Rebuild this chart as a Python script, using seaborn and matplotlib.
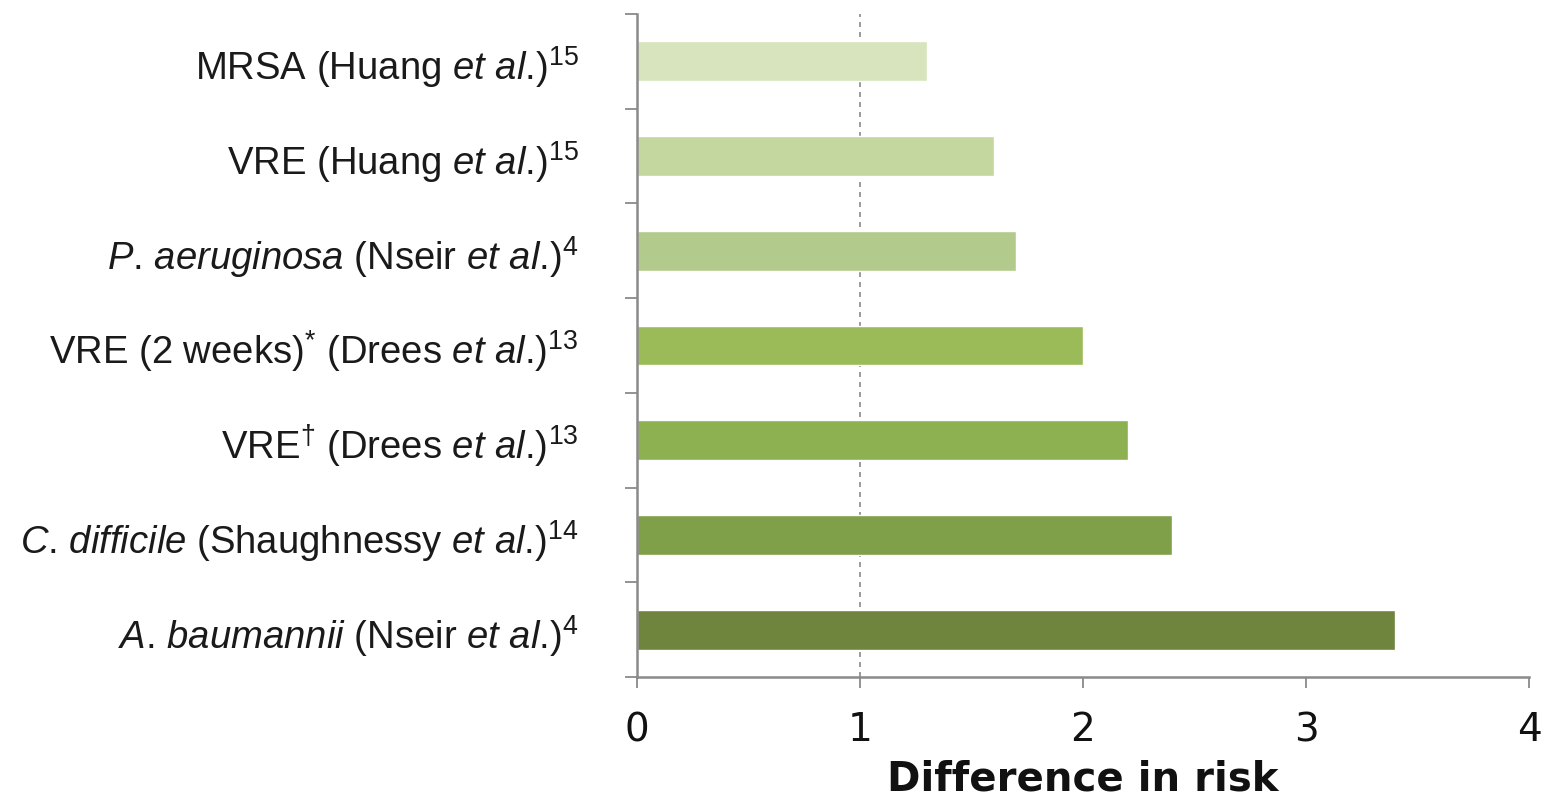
import matplotlib
matplotlib.use("Agg")
import matplotlib.pyplot as plt
from matplotlib.ticker import FixedLocator
import seaborn as sns

# Organisms / studies, top to bottom
labels = [
    r"MRSA (Huang $\mathit{et\ al}$.)$^{15}$",
    r"VRE (Huang $\mathit{et\ al}$.)$^{15}$",
    r"$\mathit{P}$. $\mathit{aeruginosa}$ (Nseir $\mathit{et\ al}$.)$^{4}$",
    r"VRE (2 weeks)$^{*}$ (Drees $\mathit{et\ al}$.)$^{13}$",
    r"VRE$^{\dagger}$ (Drees $\mathit{et\ al}$.)$^{13}$",
    r"$\mathit{C}$. $\mathit{difficile}$ (Shaughnessy $\mathit{et\ al}$.)$^{14}$",
    r"$\mathit{A}$. $\mathit{baumannii}$ (Nseir $\mathit{et\ al}$.)$^{4}$",
]
risk = [1.3, 1.6, 1.7, 2.0, 2.2, 2.4, 3.4]
colors = ["#d7e4bd", "#c4d79f", "#b2ca8b", "#9bbb59", "#8db050", "#7fa049", "#6f853e"]
xticks = [0, 1, 2, 3, 4]

sns.set_theme(style="white")
plt.rcParams["font.family"] = ["Liberation Sans", "DejaVu Sans"]
plt.rcParams["mathtext.fontset"] = "custom"
plt.rcParams["mathtext.rm"] = "Liberation Sans"
plt.rcParams["mathtext.it"] = "Liberation Sans:italic"
plt.rcParams["mathtext.default"] = "regular"

fig = plt.figure(figsize=(15.51, 8.03), dpi=100)
ax = fig.add_axes([0.4107, 0.1557, 0.5751, 0.8256])

sns.barplot(x=risk, y=labels, hue=labels, palette=colors, legend=False,
            width=0.42, orient="h", ax=ax, saturation=1)

# reference line at a difference of 1
ax.axvline(1, color="#8a8a8a", lw=1.2, ls=(0, (3, 3)), zorder=0.5)

ax.set_xlim(0, 4)
ax.set_ylim(6.5, -0.5)
ax.set_xticks(xticks)
ax.set_xticklabels([str(t) for t in xticks], fontfamily="DejaVu Sans",
                   fontsize=28, color="#111111")

ax.yaxis.set_minor_locator(FixedLocator([i - 0.5 for i in range(len(labels) + 1)]))
ax.tick_params(axis="y", which="major", length=0, pad=42, labelsize=27.5,
               labelcolor="#1a1a1a")
ax.tick_params(axis="y", which="minor", length=9, width=1.3, color="#8a8a8a", left=True)
ax.tick_params(axis="x", which="major", length=8, width=1.3, color="#8a8a8a",
               pad=16, bottom=True)

for s in ["top", "right"]:
    ax.spines[s].set_visible(False)
for s in ["left", "bottom"]:
    ax.spines[s].set_color("#8a8a8a")
    ax.spines[s].set_linewidth(1.8)

ax.set_xlabel("Difference in risk", fontfamily="DejaVu Sans", fontweight="bold",
              fontsize=29, color="#111111", labelpad=7)
ax.set_ylabel("")

fig.savefig("out.png", dpi=100, facecolor="white")
